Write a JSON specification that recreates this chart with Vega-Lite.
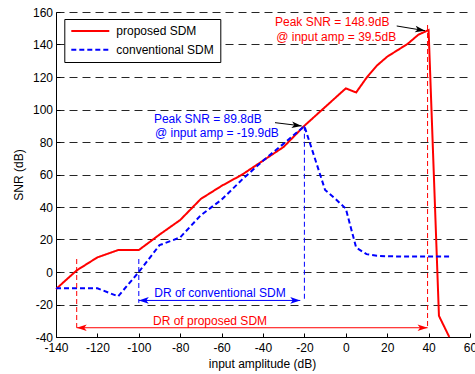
{
  "$schema": "https://vega.github.io/schema/vega-lite/v6.json",
  "width": 414,
  "height": 325,
  "autosize": "none",
  "padding": {"left": 56, "top": 12, "right": 5, "bottom": 37},
  "config": {"font": "Liberation Sans", "view": {"stroke": null}},
  "datasets": {
    "curves": [
      {"amp": -140, "snr": -10.5, "series": "proposed SDM"},
      {"amp": -130, "snr": 1, "series": "proposed SDM"},
      {"amp": -120, "snr": 9, "series": "proposed SDM"},
      {"amp": -110, "snr": 13.5, "series": "proposed SDM"},
      {"amp": -100, "snr": 13.5, "series": "proposed SDM"},
      {"amp": -90, "snr": 23, "series": "proposed SDM"},
      {"amp": -80, "snr": 32, "series": "proposed SDM"},
      {"amp": -70, "snr": 45, "series": "proposed SDM"},
      {"amp": -60, "snr": 53, "series": "proposed SDM"},
      {"amp": -50, "snr": 60, "series": "proposed SDM"},
      {"amp": -40, "snr": 68.5, "series": "proposed SDM"},
      {"amp": -30, "snr": 77, "series": "proposed SDM"},
      {"amp": -20, "snr": 90, "series": "proposed SDM"},
      {"amp": -10, "snr": 101.5, "series": "proposed SDM"},
      {"amp": 0, "snr": 113, "series": "proposed SDM"},
      {"amp": 5, "snr": 110.5, "series": "proposed SDM"},
      {"amp": 10, "snr": 119.5, "series": "proposed SDM"},
      {"amp": 15, "snr": 127, "series": "proposed SDM"},
      {"amp": 20, "snr": 132.5, "series": "proposed SDM"},
      {"amp": 25, "snr": 136.5, "series": "proposed SDM"},
      {"amp": 30, "snr": 140.5, "series": "proposed SDM"},
      {"amp": 35, "snr": 146, "series": "proposed SDM"},
      {"amp": 40, "snr": 148.9, "series": "proposed SDM"},
      {"amp": 45, "snr": -27, "series": "proposed SDM"},
      {"amp": 50, "snr": -40, "series": "proposed SDM"},
      {"amp": -140, "snr": -10, "series": "conventional SDM"},
      {"amp": -130, "snr": -10, "series": "conventional SDM"},
      {"amp": -120, "snr": -10, "series": "conventional SDM"},
      {"amp": -110, "snr": -15, "series": "conventional SDM"},
      {"amp": -100, "snr": 0, "series": "conventional SDM"},
      {"amp": -90, "snr": 16.5, "series": "conventional SDM"},
      {"amp": -80, "snr": 21.3, "series": "conventional SDM"},
      {"amp": -70, "snr": 35, "series": "conventional SDM"},
      {"amp": -60, "snr": 44.5, "series": "conventional SDM"},
      {"amp": -50, "snr": 57, "series": "conventional SDM"},
      {"amp": -40, "snr": 68.5, "series": "conventional SDM"},
      {"amp": -30, "snr": 79, "series": "conventional SDM"},
      {"amp": -20, "snr": 89.8, "series": "conventional SDM"},
      {"amp": -10, "snr": 50.5, "series": "conventional SDM"},
      {"amp": -5, "snr": 45, "series": "conventional SDM"},
      {"amp": 0, "snr": 39, "series": "conventional SDM"},
      {"amp": 5, "snr": 15, "series": "conventional SDM"},
      {"amp": 10, "snr": 11, "series": "conventional SDM"},
      {"amp": 15, "snr": 10, "series": "conventional SDM"},
      {"amp": 20, "snr": 9.7, "series": "conventional SDM"},
      {"amp": 30, "snr": 9.5, "series": "conventional SDM"},
      {"amp": 40, "snr": 9.5, "series": "conventional SDM"},
      {"amp": 50, "snr": 9.5, "series": "conventional SDM"}
    ]
  },
  "layer": [
    {
      "data": {"name": "curves"},
      "mark": {"type": "line", "strokeWidth": 2},
      "encoding": {
        "x": {
          "field": "amp", "type": "quantitative",
          "scale": {"domain": [-140, 60], "nice": false, "zero": false},
          "axis": {
            "title": "input amplitude (dB)",
            "values": [-140, -120, -100, -80, -60, -40, -20, 0, 20, 40, 60],
            "tickCount": 20,
            "labelExpr": "'' + datum.value",
            "grid": false,
            "domainColor": "black", "tickColor": "black", "labelColor": "black", "titleColor": "black",
            "tickSize": -4, "labelPadding": 9,
            "labelFontSize": 12, "titleFontSize": 12, "titleFontWeight": "normal",
            "titleBaseline": "middle", "titleY": 26.5, "titleX": 206,
            "labelFlush": false, "labelOverlap": false
          }
        },
        "y": {
          "field": "snr", "type": "quantitative",
          "scale": {"domain": [-40, 160], "nice": false, "zero": false},
          "axis": {
            "title": "SNR (dB)",
            "values": [-40, -20, 0, 20, 40, 60, 80, 100, 120, 140, 160],
            "tickCount": 20,
            "labelExpr": "'' + datum.value",
            "grid": true, "gridColor": "black", "gridDash": [8, 5], "gridWidth": 1, "gridOpacity": 0.85,
            "domainColor": "black", "tickColor": "black", "labelColor": "black", "titleColor": "black",
            "tickSize": -4, "labelPadding": 7.5,
            "labelFontSize": 12, "titleFontSize": 12, "titleFontWeight": "normal",
            "titleBaseline": "middle", "titleX": -37.5, "titleY": 162.5, "titleAngle": -90,
            "labelFlush": false, "labelOverlap": false
          }
        },
        "color": {
          "field": "series", "type": "nominal",
          "scale": {"domain": ["proposed SDM", "conventional SDM"], "range": ["#ff0000", "#0000ff"]},
          "legend": {
            "orient": "none", "legendX": 8.3, "legendY": 7, "title": null,
            "strokeColor": "black", "fillColor": "white", "padding": 6,
            "symbolType": "stroke", "symbolSize": 1444, "symbolStrokeWidth": 2,
            "labelFontSize": 12, "labelOffset": 6, "labelColor": "black",
            "clipHeight": 12, "rowPadding": 6.7
          }
        },
        "strokeDash": {
          "field": "series", "type": "nominal",
          "scale": {"domain": ["proposed SDM", "conventional SDM"], "range": [[1, 0], [5, 3]]},
          "legend": {
            "orient": "none", "legendX": 8.3, "legendY": 7, "title": null,
            "strokeColor": "black", "fillColor": "white", "padding": 6,
            "symbolType": "stroke", "symbolSize": 1444, "symbolStrokeWidth": 2,
            "labelFontSize": 12, "labelOffset": 6, "labelColor": "black",
            "clipHeight": 12, "rowPadding": 6.7
          }
        }
      }
    },
    {
      "data": {"values": [{"amp": -130, "top": 8, "bottom": -34.3}, {"amp": 39.5, "top": 152, "bottom": -34.3}]},
      "mark": {"type": "rule", "color": "#ff0000", "strokeWidth": 1, "strokeDash": [5, 3]},
      "encoding": {"x": {"field": "amp", "type": "quantitative"}, "y": {"field": "top", "type": "quantitative"}, "y2": {"field": "bottom"}}
    },
    {
      "data": {"values": [{"amp": -100, "top": 8, "bottom": -19}, {"amp": -20, "top": 90, "bottom": -18}]},
      "mark": {"type": "rule", "color": "#0000ff", "strokeWidth": 1, "strokeDash": [5, 3]},
      "encoding": {"x": {"field": "amp", "type": "quantitative"}, "y": {"field": "top", "type": "quantitative"}, "y2": {"field": "bottom"}}
    },
    {
      "data": {"values": [{"from": -130, "to": 39.5, "snr": -34.3}]},
      "mark": {"type": "rule", "color": "#ff0000", "strokeWidth": 1},
      "encoding": {"x": {"field": "from", "type": "quantitative"}, "x2": {"field": "to"}, "y": {"field": "snr", "type": "quantitative"}}
    },
    {
      "data": {"values": [{"from": -100, "to": -22, "snr": -17.5}]},
      "mark": {"type": "rule", "color": "#0000ff", "strokeWidth": 1},
      "encoding": {"x": {"field": "from", "type": "quantitative"}, "x2": {"field": "to"}, "y": {"field": "snr", "type": "quantitative"}}
    },
    {
      "data": {"values": [{"x0": 24.6, "y0": 151.4, "x1": 38.3, "y1": 148.5}, {"x0": -34.2, "y0": 91.9, "x1": -21.3, "y1": 89.9}]},
      "mark": {"type": "rule", "color": "black", "strokeWidth": 1},
      "encoding": {"x": {"field": "x0", "type": "quantitative"}, "x2": {"field": "x1"}, "y": {"field": "y0", "type": "quantitative"}, "y2": {"field": "y1"}}
    },
    {
      "data": {"values": [{"amp": 39.5, "snr": -34.3}]},
      "mark": {"type": "point", "shape": "M0,0L-2,-0.67L-1.5,0L-2,0.67Z", "size": 100, "filled": true, "opacity": 1, "color": "#ff0000", "angle": 0},
      "encoding": {"x": {"field": "amp", "type": "quantitative"}, "y": {"field": "snr", "type": "quantitative"}}
    },
    {
      "data": {"values": [{"amp": -130, "snr": -34.3}]},
      "mark": {"type": "point", "shape": "M0,0L-2,-0.67L-1.5,0L-2,0.67Z", "size": 100, "filled": true, "opacity": 1, "color": "#ff0000", "angle": 180},
      "encoding": {"x": {"field": "amp", "type": "quantitative"}, "y": {"field": "snr", "type": "quantitative"}}
    },
    {
      "data": {"values": [{"amp": -22, "snr": -17.5}]},
      "mark": {"type": "point", "shape": "M0,0L-2,-0.67L-1.5,0L-2,0.67Z", "size": 100, "filled": true, "opacity": 1, "color": "#0000ff", "angle": 0},
      "encoding": {"x": {"field": "amp", "type": "quantitative"}, "y": {"field": "snr", "type": "quantitative"}}
    },
    {
      "data": {"values": [{"amp": -100, "snr": -17.5}]},
      "mark": {"type": "point", "shape": "M0,0L-2,-0.67L-1.5,0L-2,0.67Z", "size": 100, "filled": true, "opacity": 1, "color": "#0000ff", "angle": 180},
      "encoding": {"x": {"field": "amp", "type": "quantitative"}, "y": {"field": "snr", "type": "quantitative"}}
    },
    {
      "data": {"values": [{"amp": 38.3, "snr": 148.5}]},
      "mark": {"type": "point", "shape": "M0,0L-2,-0.67L-1.5,0L-2,0.67Z", "size": 100, "filled": true, "opacity": 1, "color": "black", "angle": 9.4},
      "encoding": {"x": {"field": "amp", "type": "quantitative"}, "y": {"field": "snr", "type": "quantitative"}}
    },
    {
      "data": {"values": [{"amp": -21.3, "snr": 89.9}]},
      "mark": {"type": "point", "shape": "M0,0L-2,-0.67L-1.5,0L-2,0.67Z", "size": 100, "filled": true, "opacity": 1, "color": "black", "angle": 6.9},
      "encoding": {"x": {"field": "amp", "type": "quantitative"}, "y": {"field": "snr", "type": "quantitative"}}
    },
    {
      "data": {"values": [
        {"amp": -34.2, "snr": 151.3, "label": "Peak SNR = 148.9dB"},
        {"amp": -33.6, "snr": 142.3, "label": "@ input amp = 39.5dB"}
      ]},
      "mark": {"type": "text", "align": "left", "baseline": "alphabetic", "fontSize": 12, "color": "#ff0000"},
      "encoding": {"x": {"field": "amp", "type": "quantitative"}, "y": {"field": "snr", "type": "quantitative"}, "text": {"field": "label"}}
    },
    {
      "data": {"values": [
        {"amp": -92.7, "snr": 91.5, "label": "Peak SNR = 89.8dB"},
        {"amp": -92.2, "snr": 83.3, "label": "@ input amp = -19.9dB"}
      ]},
      "mark": {"type": "text", "align": "left", "baseline": "alphabetic", "fontSize": 12, "color": "#0000ff"},
      "encoding": {"x": {"field": "amp", "type": "quantitative"}, "y": {"field": "snr", "type": "quantitative"}, "text": {"field": "label"}}
    },
    {
      "data": {"values": [{"amp": -60.8, "snr": -15.6, "label": "DR of conventional SDM"}]},
      "mark": {"type": "text", "align": "center", "baseline": "alphabetic", "fontSize": 12, "color": "#0000ff"},
      "encoding": {"x": {"field": "amp", "type": "quantitative"}, "y": {"field": "snr", "type": "quantitative"}, "text": {"field": "label"}}
    },
    {
      "data": {"values": [{"amp": -65.6, "snr": -32.6, "label": "DR of proposed SDM"}]},
      "mark": {"type": "text", "align": "center", "baseline": "alphabetic", "fontSize": 12, "color": "#ff0000"},
      "encoding": {"x": {"field": "amp", "type": "quantitative"}, "y": {"field": "snr", "type": "quantitative"}, "text": {"field": "label"}}
    }
  ]
}
